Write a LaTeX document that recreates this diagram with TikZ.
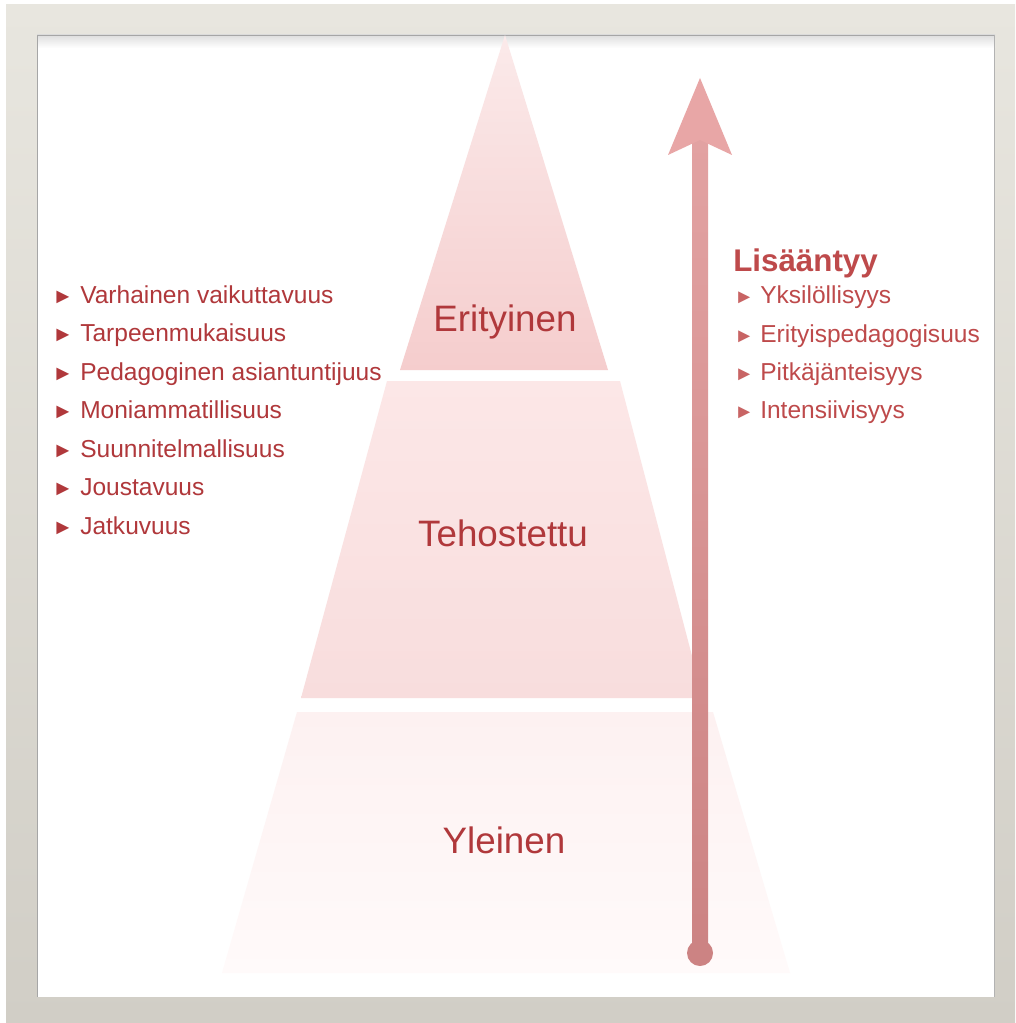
\documentclass[tikz,border=0pt]{standalone}
\usepackage{fontspec}
\setmainfont{Liberation Sans}
\definecolor{frameTop}{HTML}{E8E6DF}
\definecolor{frameBot}{HTML}{D1CEC6}
\definecolor{txtred}{HTML}{B0383B}
\definecolor{txtred2}{HTML}{BE4A4B}
\definecolor{bulred}{HTML}{C86464}
\definecolor{arrowhead}{HTML}{E8A6A6}
\definecolor{shaftTop}{HTML}{E2A2A2}
\definecolor{shaftBot}{HTML}{CC8383}
\definecolor{tierAtop}{HTML}{FBEAEA}
\definecolor{tierAbot}{HTML}{F5CDCD}
\definecolor{tierBtop}{HTML}{FCE7E7}
\definecolor{tierBbot}{HTML}{F8DDDD}
\definecolor{tierCtop}{HTML}{FDF1F1}
\definecolor{tierCbot}{HTML}{FFFAFA}
\tikzset{
  listitem/.style={anchor=base west, inner sep=0pt, text=txtred, font=\fontsize{18.4pt}{20pt}\selectfont},
  rlistitem/.style={anchor=base west, inner sep=0pt, text=txtred2, font=\fontsize{18.4pt}{20pt}\selectfont},
  tierlabel/.style={anchor=base, inner sep=0pt, text=txtred, font=\fontsize{27.6pt}{30pt}\selectfont},
  headlabel/.style={anchor=base west, inner sep=0pt, text=txtred2, font=\bfseries\fontsize{23.5pt}{26pt}\selectfont}
}
\newcommand{\lbul}{\makebox[21pt][l]{\fontsize{16pt}{17pt}\selectfont ►}}
\newcommand{\rbul}{\makebox[19.5pt][l]{\color{bulred}\fontsize{15pt}{16pt}\selectfont ►}}
\begin{document}
\begin{tikzpicture}[x=0.75pt,y=-0.75pt]
\useasboundingbox (0,0) rectangle (1015,1023);
\fill[white] (0,0) rectangle (1015,1023);
% frame
\shade[top color=frameTop, bottom color=frameBot] (6,5) rectangle (1015,1023);
\fill[white] (37,35) rectangle (995,997);
\shade[top color=black!13, bottom color=white] (37,35) rectangle (995,48);
\draw[black!35, line width=1.2pt] (37.5,997) -- (37.5,35.5) -- (995,35.5);
\draw[black!30, line width=1pt] (994.5,35) -- (994.5,997);
% pyramid tiers
\shade[top color=tierAtop, bottom color=tierAbot] (505,35) -- (608,370) -- (400,370) -- cycle;
\shade[top color=tierBtop, bottom color=tierBbot] (387,381) -- (620,381) -- (703,698) -- (301,698) -- cycle;
\shade[top color=tierCtop, bottom color=tierCbot] (297,712) -- (713,712) -- (790,973) -- (222,973) -- cycle;
\node[tierlabel] (erit) at (505,331) {Erityinen};
\node[tierlabel] (teho) at (503,546) {Tehostettu};
\node[tierlabel] (ylei) at (504,853) {Yleinen};
% arrow
\coordinate (tip) at (700,78);
\coordinate (base) at (700,953);
\shade[top color=shaftTop, bottom color=shaftBot] (692,140) rectangle (708,953);
\fill[shaftBot] (base) circle (13);
\fill[arrowhead] (tip) -- (732,155) -- (700,140) -- (668,155) -- cycle;
% left list
\node[listitem] (l1) at (52,303) {\lbul Varhainen vaikuttavuus};
\node[listitem] (l2) at (52,341.5) {\lbul Tarpeenmukaisuus};
\node[listitem] (l3) at (52,380) {\lbul Pedagoginen asiantuntijuus};
\node[listitem] (l4) at (52,418.5) {\lbul Moniammatillisuus};
\node[listitem] (l5) at (52,457) {\lbul Suunnitelmallisuus};
\node[listitem] (l6) at (52,495.5) {\lbul Joustavuus};
\node[listitem] (l7) at (52,534) {\lbul Jatkuvuus};
% right list
\node[headlabel] (head) at (733,272) {Lisääntyy};
\node[rlistitem] (r1) at (734,304) {\rbul Yksilöllisyys};
\node[rlistitem] (r2) at (734,342) {\rbul Erityispedagogisuus};
\node[rlistitem] (r3) at (734,380) {\rbul Pitkäjänteisyys};
\node[rlistitem] (r4) at (734,418) {\rbul Intensiivisyys};
\end{tikzpicture}
\end{document}
